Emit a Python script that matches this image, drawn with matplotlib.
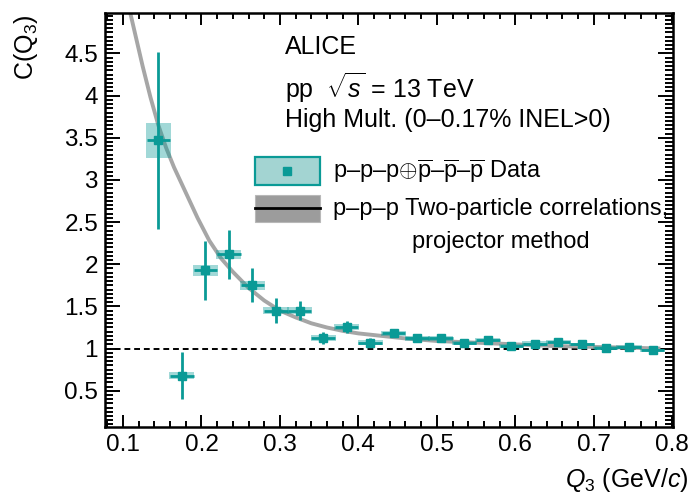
import numpy as np
import matplotlib
matplotlib.use("Agg")
import matplotlib.pyplot as plt
from matplotlib.patches import Rectangle
from matplotlib.ticker import MultipleLocator

plt.rcParams['font.family'] = ['Liberation Sans', 'DejaVu Sans']
plt.rcParams['mathtext.fontset'] = 'custom'
plt.rcParams['mathtext.rm'] = 'Liberation Sans'
plt.rcParams['mathtext.it'] = 'Liberation Sans:italic'
plt.rcParams['mathtext.sf'] = 'Liberation Sans'

# p-p-p (+) pbar-pbar-pbar three-particle correlation
q3 = [0.145, 0.175, 0.205, 0.235, 0.265, 0.295, 0.325, 0.355, 0.385, 0.415, 0.445,
      0.475, 0.505, 0.535, 0.565, 0.595, 0.625, 0.655, 0.685, 0.715, 0.745, 0.775]
c3 = [3.47, 0.68, 1.93, 2.12, 1.75, 1.45, 1.45, 1.13, 1.26, 1.07, 1.18,
      1.12, 1.12, 1.07, 1.10, 1.03, 1.06, 1.08, 1.05, 1.01, 1.02, 0.98]
stat = [1.05, 0.28, 0.35, 0.29, 0.20, 0.15, 0.11, 0.07, 0.07, 0.05, 0.04,
        0.035, 0.03, 0.03, 0.03, 0.025, 0.025, 0.025, 0.02, 0.02, 0.02, 0.02]
syst = [0.21, 0.04, 0.065, 0.055, 0.05, 0.045, 0.04, 0.035, 0.035, 0.03, 0.03,
        0.03, 0.03, 0.025, 0.025, 0.025, 0.025, 0.025, 0.02, 0.02, 0.02, 0.02]
bin_w = 0.03

# projector method expectation from two-particle correlations
proj_q3 = [0.105, 0.115, 0.125, 0.135, 0.145, 0.155, 0.165, 0.175, 0.185, 0.195,
           0.21, 0.225, 0.24, 0.26, 0.28, 0.30, 0.32, 0.34, 0.36, 0.38, 0.40,
           0.43, 0.46, 0.50, 0.55, 0.60, 0.65, 0.70, 0.75, 0.785]
proj_c3 = [5.15, 4.75, 4.35, 3.98, 3.65, 3.38, 3.15, 2.95, 2.75, 2.55,
           2.28, 2.07, 1.91, 1.72, 1.57, 1.45, 1.37, 1.30, 1.25, 1.21, 1.18,
           1.15, 1.12, 1.09, 1.07, 1.05, 1.03, 1.02, 1.01, 1.00]

teal = '#0a9a96'
teal_light = '#a3d4d2'
grey = '#a6a6a6'

fig = plt.figure(figsize=(6.92, 4.95), dpi=100)
ax = fig.add_axes([0.1517, 0.1374, 0.8208, 0.8363])

ax.axhline(1.0, color='black', lw=1.4, ls=(0, (3, 2)), zorder=1)
ax.plot(proj_q3, proj_c3, color=grey, lw=2.8, zorder=2, solid_capstyle='butt')

for x, y, s in zip(q3, c3, syst):
    ax.add_patch(Rectangle((x - bin_w / 2 - 0.001, y - s), bin_w + 0.002, 2 * s,
                           facecolor=teal, alpha=0.38, edgecolor='none', zorder=3))
ax.errorbar(q3, c3, yerr=stat, xerr=bin_w / 2, fmt='s', color=teal, ms=6,
            elinewidth=2.0, capsize=0, zorder=4)

ax.set_xlim(0.077, 0.801)
ax.set_ylim(0.07, 4.98)
ax.xaxis.set_major_locator(MultipleLocator(0.1))
ax.xaxis.set_minor_locator(MultipleLocator(0.02))
ax.yaxis.set_major_locator(MultipleLocator(0.5))
ax.yaxis.set_minor_locator(MultipleLocator(0.05))
ax.set_xticks(np.arange(0.1, 0.81, 0.1))
ax.set_xticklabels(['0.1', '0.2', '0.3', '0.4', '0.5', '0.6', '0.7', '0.8'])
ax.set_yticks(np.arange(0.5, 4.6, 0.5))
ax.set_yticklabels(['0.5', '1', '1.5', '2', '2.5', '3', '3.5', '4', '4.5'])

ax.tick_params(which='both', direction='in', top=True, right=True, width=1.4,
               labelsize=17.5)
ax.tick_params(axis='x', which='major', length=8.6, pad=5)
ax.tick_params(axis='x', which='minor', length=4.3)
ax.tick_params(axis='y', which='major', length=11, pad=5)
ax.tick_params(axis='y', which='minor', length=5.5)
for sp in ax.spines.values():
    sp.set_linewidth(1.8)

ax.set_xlabel(r'$Q_{3}$ (GeV/$c$)', fontsize=18, ha='right')
ax.xaxis.set_label_coords(1.028, -0.095)
ax.set_ylabel(r'C(Q$_{3}$)', fontsize=18, loc='top')
ax.yaxis.set_label_coords(-0.115, 0.997)

# header text
ax.text(0.317, 0.918, 'ALICE', transform=ax.transAxes, fontsize=18, va='center')
ax.text(0.317, 0.819, r'pp  $\sqrt{s}$ = 13 TeV', transform=ax.transAxes,
        fontsize=18, va='center')
ax.text(0.317, 0.7415, 'High Mult. (0–0.17% INEL>0)', transform=ax.transAxes,
        fontsize=18, va='center')

# hand-made legend
ax.add_patch(Rectangle((0.264, 0.5845), 0.1145, 0.0675, transform=ax.transAxes,
                       facecolor=teal_light, edgecolor=teal, lw=1.6, zorder=5))
ax.plot([0.321], [0.618], 's', color=teal, ms=6, transform=ax.transAxes, zorder=6)
ax.add_patch(Rectangle((0.264, 0.495), 0.1145, 0.065, transform=ax.transAxes,
                       facecolor='#9c9c9c', edgecolor='#b8b8b8', lw=0.8, zorder=5))
ax.plot([0.264, 0.3785], [0.529, 0.529], color='black', lw=2.0,
        transform=ax.transAxes, zorder=6)
pbar = r'$\overline{\mathrm{p}}$'
ax.text(0.401, 0.618, 'p–p–p' + r'$\oplus$' + pbar + '–' + pbar + '–' + pbar + ' Data',
        transform=ax.transAxes, fontsize=17, va='center')
ax.text(0.401, 0.527, 'p–p–p Two-particle correlations,', transform=ax.transAxes,
        fontsize=17, va='center')
ax.text(0.5405, 0.447, 'projector method', transform=ax.transAxes,
        fontsize=17, va='center')

fig.savefig('out.png', dpi=100)
